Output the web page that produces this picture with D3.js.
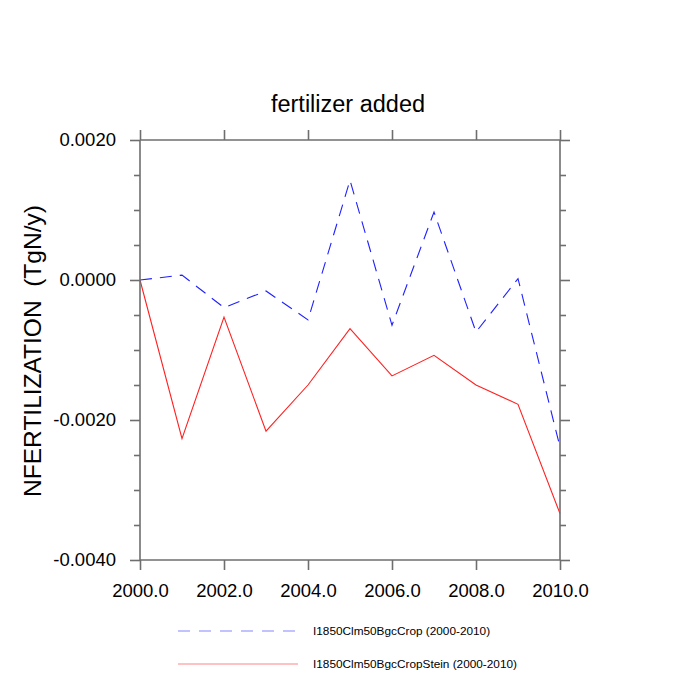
<!DOCTYPE html>
<html>
<head>
<meta charset="utf-8">
<script src="https://cdn.jsdelivr.net/npm/d3@7"></script>
<style>
  body { margin: 0; background: #fff; }
  text { font-family: "Liberation Sans", Arial, sans-serif; }
</style>
</head>
<body>
<div id="chart"></div>
<script>
// data
const years = [2000, 2001, 2002, 2003, 2004, 2005, 2006, 2007, 2008, 2009, 2010];
const cropValues = [0, 0.00007, -0.000395, -0.000157, -0.00057, 0.001424, -0.000647, 0.000971, -0.000743, 0.00002, -0.002386];
const steinValues = [0, -0.002266, -0.000529, -0.00216, -0.0015, -0.000695, -0.00137, -0.001076, -0.0015, -0.001776, -0.003338];
const xTicks = [2000, 2002, 2004, 2006, 2008, 2010];
const yTicks = [0.002, 0, -0.002, -0.004];
const yMinorTicks = [-0.0035, -0.003, -0.0025, -0.0015, -0.001, -0.0005, 0.0005, 0.001, 0.0015];
const seriesNames = ["I1850Clm50BgcCrop (2000-2010)", "I1850Clm50BgcCropStein (2000-2010)"];

const W = 700, H = 700;
const mLeft = 140, mRight = 560, mTop = 140, mBottom = 560;

const svg = d3.select("#chart").append("svg")
  .attr("width", W).attr("height", H);

const x = d3.scaleLinear().domain([2000, 2010]).range([mLeft, mRight]);
const y = d3.scaleLinear().domain([-0.004, 0.002]).range([mBottom, mTop]);

const axisColor = "#6e6e6e";

// lines
const line = d3.line().x((d, i) => x(years[i])).y(d => y(d));

svg.append("path")
  .datum(steinValues)
  .attr("d", line)
  .attr("fill", "none")
  .attr("stroke", "#ff2020")
  .attr("stroke-width", 1.1);

svg.append("path")
  .datum(cropValues)
  .attr("d", line)
  .attr("fill", "none")
  .attr("stroke", "#2020ff")
  .attr("stroke-width", 1.1)
  .attr("stroke-dasharray", "12,8");

// frame axes
const fmtY = d => d3.format(".4f")(d).replace("−", "-");
const fmtX = d => d3.format(".1f")(d);

const gLeft = svg.append("g").attr("transform", `translate(${mLeft},0)`)
  .call(d3.axisLeft(y).tickValues(yTicks).tickSize(10).tickPadding(14).tickFormat(fmtY));
const gRight = svg.append("g").attr("transform", `translate(${mRight},0)`)
  .call(d3.axisRight(y).tickValues(yTicks).tickSize(10).tickFormat(""));
const gBottom = svg.append("g").attr("transform", `translate(0,${mBottom})`)
  .call(d3.axisBottom(x).tickValues(xTicks).tickSize(10).tickPadding(14).tickFormat(fmtX));
const gTop = svg.append("g").attr("transform", `translate(0,${mTop})`)
  .call(d3.axisTop(x).tickValues(xTicks).tickSize(10).tickFormat(""));

// minor y ticks
svg.append("g").attr("transform", `translate(${mLeft},0)`)
  .call(d3.axisLeft(y).tickValues(yMinorTicks).tickSize(6).tickFormat(""))
  .select(".domain").remove();
svg.append("g").attr("transform", `translate(${mRight},0)`)
  .call(d3.axisRight(y).tickValues(yMinorTicks).tickSize(6).tickFormat(""))
  .select(".domain").remove();

svg.selectAll(".domain").attr("stroke", axisColor).attr("stroke-width", 1.6);
svg.selectAll(".tick line").attr("stroke", axisColor).attr("stroke-width", 1.6);
svg.selectAll(".tick text")
  .attr("fill", "#000")
  .style("font-size", "18.5px")
  .style("font-family", "'Liberation Sans', Arial, sans-serif");

// axis lines only, without the outer stubs
[gLeft, gRight].forEach(g => g.select(".domain").attr("d", `M0,${mTop}V${mBottom}`));
[gBottom, gTop].forEach(g => g.select(".domain").attr("d", `M${mLeft},0H${mRight}`));

// title
svg.append("text")
  .attr("x", 348)
  .attr("y", 111.5)
  .attr("text-anchor", "middle")
  .style("font-size", "23.5px")
  .text("fertilizer added");

// y label
svg.append("text")
  .attr("transform", `translate(41,351) rotate(-90)`)
  .attr("text-anchor", "middle")
  .style("font-size", "24.5px")
  .style("white-space", "pre")
  .text("NFERTILIZATION  (TgN/y)");

// legend
const legend = svg.append("g");
const legendY = [631, 664];
const legendColors = ["#2020ff", "#ff2020"];
const legendDash = ["12,9", null];
seriesNames.forEach((name, i) => {
  legend.append("line")
    .attr("x1", 178).attr("x2", 298)
    .attr("y1", legendY[i]).attr("y2", legendY[i])
    .attr("stroke", legendColors[i])
    .attr("stroke-opacity", 0.55)
    .attr("stroke-width", 1.1)
    .attr("stroke-dasharray", legendDash[i]);
  legend.append("text")
    .attr("x", 313).attr("y", legendY[i])
    .attr("dy", "0.35em")
    .style("font-size", "11.8px")
    .text(name);
});
</script>
</body>
</html>
